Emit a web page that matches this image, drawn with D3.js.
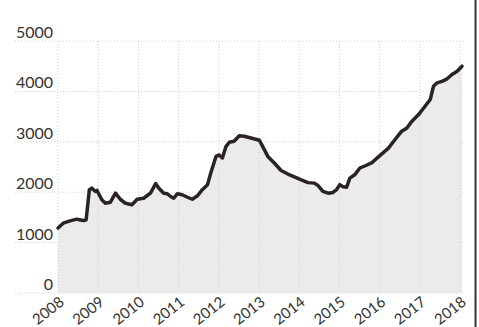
<!DOCTYPE html>
<html>
<head>
<meta charset="utf-8">
<script src="https://cdn.jsdelivr.net/npm/d3@7/dist/d3.min.js"></script>
<style>
  html, body { margin: 0; padding: 0; background: #fff; }
  svg { display: block; }
  text { font-family: Lato, "Open Sans", sans-serif; fill: #333; }
</style>
</head>
<body>
<svg id="chart" width="479" height="327"></svg>
<script>
// Time points as decimal years, and the index value at each point
const dates = [
  2008.00, 2008.13, 2008.30, 2008.47, 2008.63, 2008.70, 2008.78, 2008.84, 2008.93, 2008.97,
  2009.09, 2009.18, 2009.30, 2009.43, 2009.55, 2009.68, 2009.84, 2009.97,
  2010.13, 2010.30, 2010.43, 2010.51, 2010.63, 2010.72, 2010.80, 2010.88, 2010.97,
  2011.09, 2011.22, 2011.34, 2011.47, 2011.59, 2011.72, 2011.80, 2011.93,
  2012.01, 2012.09, 2012.18, 2012.26, 2012.38, 2012.51, 2012.63, 2012.80,
  2013.01, 2013.09, 2013.22, 2013.38, 2013.55, 2013.72, 2013.88,
  2014.05, 2014.22, 2014.38, 2014.47, 2014.59, 2014.72, 2014.84, 2014.93,
  2015.01, 2015.09, 2015.18, 2015.26, 2015.38, 2015.51, 2015.63, 2015.80, 2015.97,
  2016.22, 2016.38, 2016.55, 2016.68, 2016.80, 2016.97,
  2017.13, 2017.26, 2017.34, 2017.43, 2017.55, 2017.68, 2017.80, 2017.93, 2018.05
];
const values = [
  1290, 1385, 1430, 1465, 1440, 1450, 2050, 2080, 2015, 2035,
  1850, 1780, 1800, 1980, 1860, 1780, 1750, 1860,
  1880, 1980, 2170, 2080, 1980, 1970, 1915, 1880, 1970,
  1950, 1900, 1860, 1930, 2050, 2150, 2380, 2710,
  2740, 2680, 2910, 2990, 3010, 3120, 3110, 3075,
  3030, 2910, 2710, 2580, 2430, 2360, 2305,
  2245, 2190, 2180, 2130, 2015, 1980, 1995, 2050,
  2150, 2110, 2100, 2280, 2345, 2480, 2520, 2580, 2700,
  2875, 3040, 3210, 3275, 3405, 3540,
  3705, 3840, 4100, 4170, 4200, 4250, 4335, 4400, 4500
];
const yearTicks = [2008, 2009, 2010, 2011, 2012, 2013, 2014, 2015, 2016, 2017, 2018];
const valueTicks = [0, 1000, 2000, 3000, 4000, 5000];

const data = dates.map((d, i) => ({ t: d, v: values[i] }));

const svg = d3.select("#chart");

const x = d3.scaleLinear().domain([2008, 2018]).range([58, 460]);
const y = d3.scaleLinear().domain([0, 5000]).range([293, 41]);

// Horizontal dotted gridlines
svg.append("g")
  .selectAll("line")
  .data(valueTicks)
  .join("line")
  .attr("x1", 15).attr("x2", 463)
  .attr("y1", d => y(d)).attr("y2", d => y(d))
  .attr("stroke", "#d2d2d2")
  .attr("stroke-width", 1)
  .attr("stroke-dasharray", "1,2");

// Shaded area under the line
const area = d3.area()
  .x(d => x(d.t))
  .y0(y(0))
  .y1(d => y(d.v));

svg.append("path")
  .datum(data)
  .attr("d", area)
  .attr("fill", "#ebebeb");

// Vertical dotted gridlines at each year
svg.append("g")
  .selectAll("line")
  .data(yearTicks)
  .join("line")
  .attr("x1", d => x(d)).attr("x2", d => x(d))
  .attr("y1", y(5000)).attr("y2", y(0))
  .attr("stroke", "#d0d0d0")
  .attr("stroke-width", 1)
  .attr("stroke-dasharray", "1,2");

// Y axis labels
svg.append("g")
  .selectAll("text")
  .data(valueTicks)
  .join("text")
  .attr("x", 53)
  .attr("y", d => y(d) - 3)
  .attr("text-anchor", "end")
  .attr("font-size", 16)
  .text(d => d);

// X axis labels, rotated
svg.append("g")
  .selectAll("text")
  .data(yearTicks)
  .join("text")
  .attr("transform", d => `translate(${x(d) + 7},${304}) rotate(-38)`)
  .attr("text-anchor", "end")
  .attr("font-size", 15)
  .text(d => d);

// Main line
const line = d3.line()
  .x(d => x(d.t))
  .y(d => y(d.v));

svg.append("path")
  .datum(data)
  .attr("d", line)
  .attr("fill", "none")
  .attr("stroke", "#2a2129")
  .attr("stroke-width", 3.5)
  .attr("stroke-linejoin", "round")
  .attr("stroke-linecap", "round");

// Right-hand frame rule
svg.append("line")
  .attr("x1", 475.5).attr("x2", 475.5)
  .attr("y1", 0).attr("y2", 327)
  .attr("stroke", "#333")
  .attr("stroke-width", 2);
</script>
</body>
</html>
